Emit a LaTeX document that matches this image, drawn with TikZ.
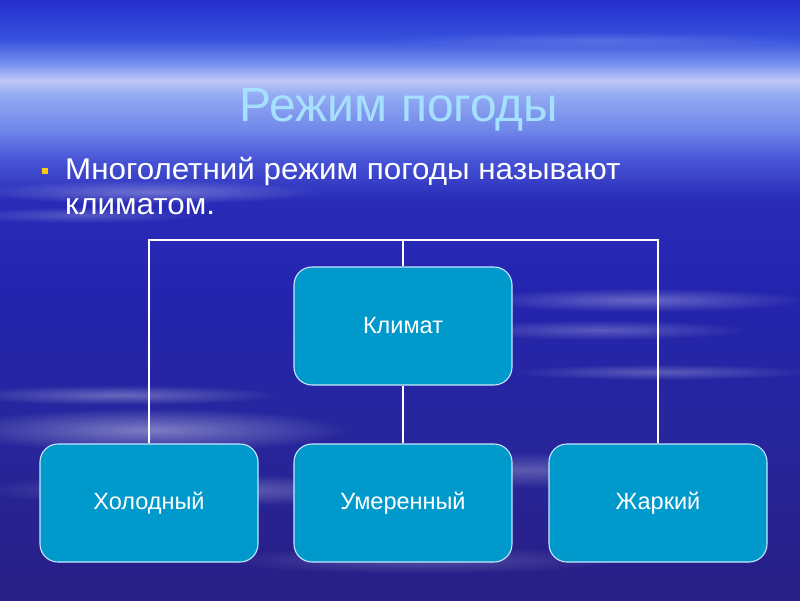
\documentclass[tikz,border=0pt]{standalone}
\usepackage{fontspec}
\setmainfont{Liberation Sans}
\usetikzlibrary{fadings}
\tikzfading[name=softout, inner color=transparent!0, outer color=transparent!100]
\pgfdeclareverticalshading{skybg}{100bp}{%
rgb(0bp)=(0.16,0.12,0.52);
rgb(25bp)=(0.16,0.12,0.52);
rgb(40bp)=(0.15,0.15,0.62);
rgb(50bp)=(0.14,0.14,0.68);
rgb(58.3bp)=(0.16,0.17,0.72);
rgb(61.7bp)=(0.28,0.33,0.84);
rgb(64.2bp)=(0.44,0.53,0.92);
rgb(67.1bp)=(0.58,0.67,0.95);
rgb(68.3bp)=(0.74,0.78,0.97);
rgb(69.6bp)=(0.48,0.58,0.94);
rgb(71.7bp)=(0.22,0.32,0.87);
rgb(75bp)=(0.14,0.18,0.80);
rgb(100bp)=(0.14,0.18,0.80)}
\definecolor{boxfill}{RGB}{0,153,204}
\definecolor{boxline}{RGB}{200,230,255}
\definecolor{titlecol}{RGB}{165,225,255}
\definecolor{bulletcol}{RGB}{255,204,0}
\tikzset{
  cbox/.style={draw=boxline, line width=1.1pt, fill=boxfill, rounded corners=18pt,
    minimum width=218pt, minimum height=118pt, inner sep=0pt,
    text=white, font=\fontsize{23.5}{28}\selectfont},
  link/.style={draw=white, line width=1.6pt},
  cloud/.style={fill=white, path fading=softout},
  bodytext/.style={text=white, font=\fontsize{30}{36}\selectfont, anchor=base west, inner sep=0pt, xscale=1.045}
}
\begin{document}
\begin{tikzpicture}[x=1pt,y=-1pt]
\useasboundingbox (0,0) rectangle (800,600);
\shade[shading=skybg] (0,0) rectangle (800,600);
% cloud streaks
\fill[cloud, opacity=0.30] (150,192) ellipse (170 and 12);
\fill[cloud, opacity=0.22] (80,215) ellipse (120 and 8);
\fill[cloud, opacity=0.30] (640,300) ellipse (170 and 12);
\fill[cloud, opacity=0.25] (600,330) ellipse (150 and 10);
\fill[cloud, opacity=0.25] (660,372) ellipse (150 and 8);
\fill[cloud, opacity=0.40] (150,430) ellipse (200 and 22);
\fill[cloud, opacity=0.30] (120,395) ellipse (160 and 10);
\fill[cloud, opacity=0.30] (200,490) ellipse (220 and 16);
\fill[cloud, opacity=0.25] (520,470) ellipse (240 and 18);
\fill[cloud, opacity=0.20] (420,560) ellipse (200 and 14);
\fill[cloud, opacity=0.15] (600,40) ellipse (220 and 8);
% title and text
\node[text=titlecol, font=\fontsize{48}{56}\selectfont, anchor=base] (title) at (399,121) {Режим погоды};
\fill[bulletcol] (42,168) rectangle (47.5,173.5);
\node[bodytext] (l1) at (65,179) {Многолетний режим погоды называют};
\node[bodytext] (l2) at (65,214) {климатом.};
% boxes
\node[cbox] (k) at (403,326) {Климат};
\node[cbox] (h) at (149,503) {Холодный};
\node[cbox] (u) at (403,503) {Умеренный};
\node[cbox] (z) at (658,503) {Жаркий};
\coordinate (top) at (403,240);
\draw[link] (k.north) -- (top);
\draw[link] (top) -| (h.north);
\draw[link] (top) -| (z.north);
\draw[link] (k.south) -- (u.north);
\end{tikzpicture}
\end{document}
